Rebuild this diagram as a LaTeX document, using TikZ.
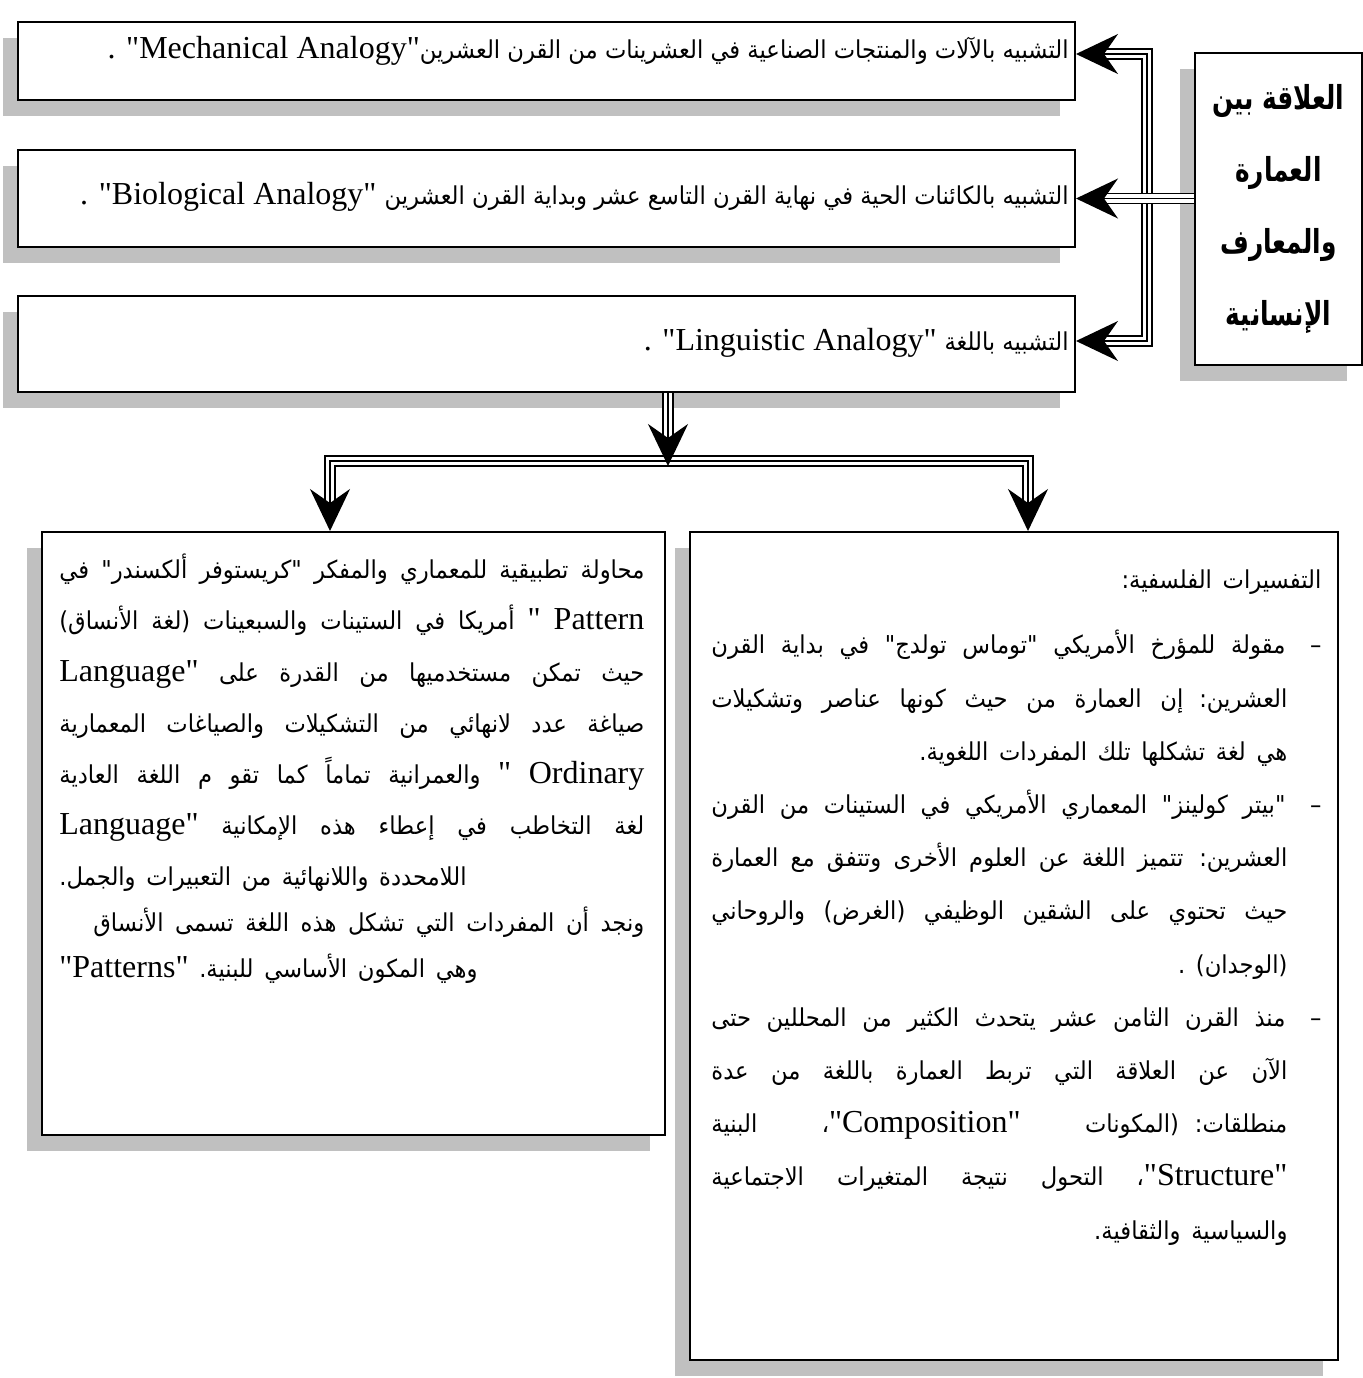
\documentclass[tikz,border=0pt]{standalone}
\usepackage{fontspec}
\setmainfont{Liberation Serif}[Ligatures=TeXOff]
\newfontfamily\arabicfont[Script=Arabic,Scale=0.77,FakeStretch=0.92]{DejaVu Sans}
\newfontfamily\titlefont[Script=Arabic,FakeStretch=0.75]{DejaVu Sans}
\TeXXeTstate=1
\usetikzlibrary{positioning,shadows,arrows.meta}
\definecolor{shadowGrey}{HTML}{C0C0C0}

% Arabic run, line helpers
\newcommand\artxt[1]{{\arabicfont\beginR #1\endR}}
\newcommand\titletxt[1]{{\titlefont\beginR #1\endR}}
\newcommand\jl[1]{\par\hbox to\hsize{\spaceskip=4pt plus 1fil\relax #1}}
\newcommand\rl[1]{\par\hbox to\hsize{\hfil #1}}
\newcommand\lastl[1]{\par\hbox to\hsize{#1\hfil}}
\newcommand\bul{\hbox to 18pt{–\hfil}}
\newcommand\indentbox{\hbox to 17pt{}}

\tikzset{
  bighead/.tip={Stealth[length=21pt,width=20pt,inset=7pt]},
  % shaded boxes
  panel/.style={rectangle, draw, line width=1pt, fill=white, inner sep=0pt,
    drop shadow={shadow xshift=-7.5pt, shadow yshift=-8pt, fill=shadowGrey, opacity=1}},
  % texts
  panel_text/.style={inner sep=0pt, anchor=base east, font=\fontsize{16}{19}\selectfont},
  body_text/.style={inner sep=0pt, anchor=north west, font=\fontsize{16}{25.6}\selectfont},
  title_text/.style={align=center, font=\bfseries\fontsize{16.5}{36}\selectfont},
  % triple connectors
  triple_to/.style={line width=0.75pt, -bighead,
    preaction={draw, arrows=-, line width=5.75pt, shorten >=13pt},
    preaction={draw=white, arrows=-, line width=4.25pt, shorten >=13pt}},
  triple_both/.style={line width=0.75pt, bighead-bighead,
    preaction={draw, arrows=-, line width=5.75pt, shorten >=13pt, shorten <=13pt},
    preaction={draw=white, arrows=-, line width=4.25pt, shorten >=13pt, shorten <=13pt}},
}

\begin{document}
\begin{tikzpicture}[x=0.5pt, y=-0.5pt]
\useasboundingbox (0,0) rectangle (1363,1378);

% analogy boxes
\node[panel, minimum width=528.5pt, minimum height=39pt] (b1) at (546.5,61) {};
\node[panel, minimum width=528.5pt, minimum height=48.5pt, below=24pt of b1] (b2) {};
\node[panel, minimum width=528.5pt, minimum height=48pt, below=23.5pt of b2] (b3) {};
\node[panel_text] (b1t) at ([xshift=-3.5pt, yshift=1.5pt]b1.east)
  {. "Mechanical Analogy"\artxt{التشبيه بالآلات والمنتجات الصناعية في العشرينات من القرن العشرين}};
\node[panel_text] (b2t) at ([xshift=-3.5pt, yshift=-2.75pt]b2.east)
  {. "Biological Analogy" \artxt{التشبيه بالكائنات الحية في نهاية القرن التاسع عشر وبداية القرن العشرين}};
\node[panel_text] (b3t) at ([xshift=-3.5pt, yshift=-3pt]b3.east)
  {. "Linguistic Analogy" \artxt{التشبيه باللغة}};

% title box
\node[panel, title_text, minimum width=83.5pt, minimum height=156pt] (rb) at (1278.5,209)
  {\titletxt{العلاقة بين}\\\titletxt{العمارة}\\\titletxt{والمعارف}\\\titletxt{الإنسانية}};

% lower boxes
\node[panel, minimum width=311.5pt, minimum height=301.5pt] (bl) at (353.5,833.5) {};
\node[panel, minimum width=324pt, minimum height=414pt] (br) at (1014,946) {};

\node[body_text, text width=292.5pt] (bltxt) at ([xshift=9pt, yshift=2pt]bl.north west) {%
\jl{\artxt{محاولة تطبيقية للمعماري والمفكر "كريستوفر ألكسندر" في}}
\jl{\artxt{أمريكا في الستينات والسبعينات (لغة الأنساق)} " Pattern}
\jl{Language" \artxt{حيث تمكن مستخدميها من القدرة على}}
\jl{\artxt{صياغة عدد لانهائي من التشكيلات والصياغات المعمارية}}
\jl{\artxt{والعمرانية تماماً كما تقو م اللغة العادية} " Ordinary}
\jl{Language" \artxt{لغة التخاطب في إعطاء هذه الإمكانية}}
\lastl{\artxt{اللامحددة واللانهائية من التعبيرات والجمل.}}
\baselineskip=23pt
\jl{\hspace{17pt}\artxt{ونجد أن المفردات التي تشكل هذه اللغة تسمى الأنساق}}
\lastl{"Patterns" \artxt{وهي المكون الأساسي للبنية.}}
};

\node[body_text, text width=305pt] (brtxt) at ([xshift=11pt, yshift=-2pt]br.north west) {%
\baselineskip=26.6pt
\rl{\artxt{التفسيرات الفلسفية:}}
\vskip 6pt
\jl{\artxt{\bul مقولة للمؤرخ الأمريكي "توماس تولدج" في بداية القرن}}
\jl{\artxt{\indentbox العشرين: إن العمارة من حيث كونها عناصر وتشكيلات}}
\rl{\artxt{\indentbox هي لغة تشكلها تلك المفردات اللغوية.}}
\jl{\artxt{\bul "بيتر كولينز" المعماري الأمريكي في الستينات من القرن}}
\jl{\artxt{\indentbox العشرين: تتميز اللغة عن العلوم الأخرى وتتفق مع العمارة}}
\jl{\artxt{\indentbox حيث تحتوي على الشقين الوظيفي (الغرض) والروحاني}}
\rl{\artxt{\indentbox (الوجدان) .}}
\jl{\artxt{\bul منذ القرن الثامن عشر يتحدث الكثير من المحللين حتى}}
\jl{\artxt{\indentbox الآن عن العلاقة التي تربط العمارة باللغة من عدة}}
\jl{\artxt{البنية} {\arabicfont ،}"Composition" \artxt{\indentbox منطلقات: (المكونات}}
\jl{\artxt{التحول نتيجة المتغيرات الاجتماعية} {\arabicfont ،}"Structure"\indentbox}
\rl{\artxt{\indentbox والسياسية والثقافية.}}
};

% connectors
\coordinate (bus) at (1147,200);
\coordinate (split) at (668,466);
\coordinate (lt) at (330,461);
\coordinate (rt) at (1028,461);

\draw[triple_both] ([yshift=3.5pt]b1.east) -| (bus) |- ([yshift=1.5pt]b3.east);
\draw[triple_to] (rb.west |- b2.east) -- (b2.east);
\draw[triple_both] (lt |- bl.north) -- (lt) -- (rt) -- (rt |- br.north);
\draw[triple_to] (split |- b3.south) -- (split);
\end{tikzpicture}
\end{document}
